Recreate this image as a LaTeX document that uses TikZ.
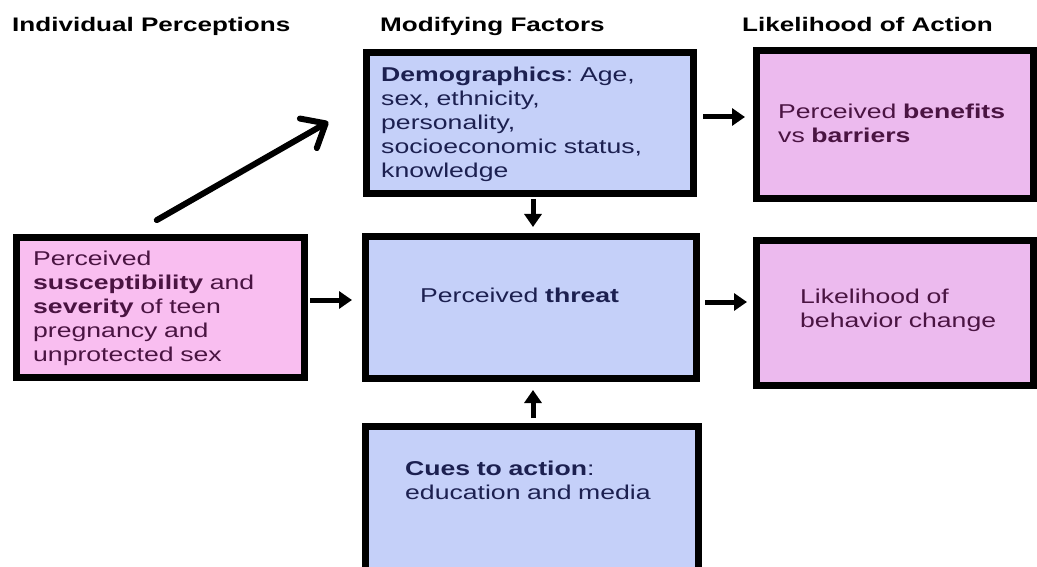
\documentclass[tikz,border=0pt]{standalone}
\usepackage{fontspec}
\setmainfont[FakeStretch=1.33]{Liberation Sans}
\usetikzlibrary{arrows.meta}
\frenchspacing

\definecolor{bluefill}{HTML}{C5D0F9}
\definecolor{pinkfill}{HTML}{F9BEF0}
\definecolor{mauvefill}{HTML}{ECBAEE}
\definecolor{navytext}{HTML}{1C2050}
\definecolor{plumtext}{HTML}{4A1442}

\tikzset{
  box/.style={draw=black, line width=7pt, inner sep=0pt},
  bluebox/.style={box, fill=bluefill},
  pinkbox/.style={box, fill=pinkfill},
  mauvebox/.style={box, fill=mauvefill},
  boxtext/.style={anchor=north west, inner sep=0pt, text width=300pt, align=left,
    text height=14pt, font=\fontsize{20}{24}\selectfont},
  head/.style={anchor=base west, inner sep=0pt, font=\bfseries\fontsize{19.6}{23}\selectfont},
  arr/.style={line width=5pt, -{Triangle[length=13pt,width=17pt]}},
  diag/.style={line width=6pt, line cap=round, -{Straight Barb[length=20pt,width=34pt,round]}}
}

\begin{document}
\begin{tikzpicture}[x=1pt, y=-1pt]
\useasboundingbox (0,0) rectangle (1037,567);
\clip (0,0) rectangle (1037,567);

% column heads
\node[head] (perchead) at (12,32) {Individual Perceptions};
\node[head] (modhead) at (380,32) {Modifying Factors};
\node[head] (acthead) at (742,32) {Likelihood of Action};

% boxes
\node[pinkbox, minimum width=288pt, minimum height=140pt] (perc) at (160.5,307.5) {};
\node[bluebox, minimum width=327pt, minimum height=141pt] (demog) at (530,123) {};
\node[bluebox, minimum width=331pt, minimum height=142pt] (threat) at (531,307.5) {};
\node[bluebox, minimum width=333pt, minimum height=173.5pt] (cues) at (532,513.25) {};
\node[mauvebox, minimum width=277pt, minimum height=148pt] (benefits) at (895,124.5) {};
\node[mauvebox, minimum width=277pt, minimum height=145pt] (likely) at (895,313) {};

% box texts
\node[boxtext, text=plumtext] (perctext) at ([shift={(20,17)}]perc.north west)
  {Perceived\\ \textbf{susceptibility} and\\ \textbf{severity} of teen\\ pregnancy and\\ unprotected sex};
\node[boxtext, text=navytext] (demogtext) at ([shift={(18,18)}]demog.north west)
  {\textbf{Demographics}: Age,\\ sex, ethnicity,\\ personality,\\ socioeconomic status,\\ knowledge};
\node[boxtext, text=navytext] (threattext) at ([shift={(58,55)}]threat.north west)
  {Perceived \textbf{threat}};
\node[boxtext, text=navytext] (cuestext) at ([shift={(43,38)}]cues.north west)
  {\textbf{Cues to action}:\\ education and media};
\node[boxtext, text=plumtext] (benefitstext) at ([shift={(25,57)}]benefits.north west)
  {Perceived \textbf{benefits}\\ vs \textbf{barriers}};
\node[boxtext, text=plumtext] (likelytext) at ([shift={(47,52)}]likely.north west)
  {Likelihood of\\ behavior change};

% arrows
\draw[diag, shorten <=28pt, shorten >=40pt] ([xshift=-28pt]perc.north) -- ([yshift=21pt]demog.west);
\draw[arr, shorten <=2pt, shorten >=10pt] ([yshift=7.5pt]perc.east) -- ([yshift=7.5pt]threat.west);
\draw[arr, shorten <=6pt, shorten >=8pt] ([yshift=6pt]demog.east) -- ([yshift=7.5pt]benefits.west);
\draw[arr, shorten <=5pt, shorten >=6pt] ([yshift=5.5pt]threat.east) -- ([yshift=11pt]likely.west);
\draw[arr, shorten <=2pt, shorten >=6pt] ([xshift=3pt]demog.south) -- ([xshift=2pt]threat.north);
\draw[arr, shorten <=5pt, shorten >=8pt] ([xshift=1pt]cues.north) -- ([xshift=2pt]threat.south);
\end{tikzpicture}
\end{document}
